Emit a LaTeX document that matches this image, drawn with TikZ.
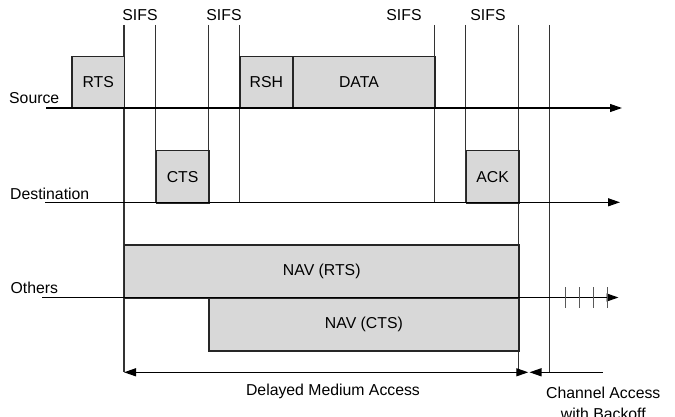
\documentclass[tikz,border=0pt]{standalone}
\usepackage{fontspec}
\setmainfont{Liberation Sans}
\usetikzlibrary{arrows.meta}
\definecolor{boxgray}{HTML}{D8D8D8}
\newcommand\lblfont{\fontsize{15.8}{21}\selectfont}
\begin{document}
\begin{tikzpicture}[x=1pt,y=-1pt,
  box/.style={draw=black!85, fill=boxgray, line width=1.2pt, inner sep=0pt, anchor=north west, font=\lblfont},
  vline/.style={draw=black!80, line width=1.2pt},
  axis/.style={draw=black, line width=1.2pt, -{Triangle[length=12pt,width=8pt]}},
  tick/.style={draw=black!65, line width=1.3pt},
  dim/.style={draw=black, line width=1.2pt},
  lbl/.style={font=\lblfont, inner sep=0pt}]
\useasboundingbox (0,0) rectangle (675,417);

% vertical time markers
\coordinate (t1) at (124,25);   \coordinate (b1) at (124,372.3);
\coordinate (t2) at (155.7,25); \coordinate (b2) at (155.7,202.3);
\coordinate (t3) at (208.3,25); \coordinate (b3) at (208.3,202.3);
\coordinate (t4) at (239.3,25); \coordinate (b4) at (239.3,202.3);
\coordinate (t5) at (434.3,25); \coordinate (b5) at (434.3,202.3);
\coordinate (t6) at (465.7,25); \coordinate (b6) at (465.7,202.3);
\coordinate (t7) at (518.3,25); \coordinate (b7) at (518.3,372.3);
\coordinate (t8) at (549.7,25); \coordinate (b8) at (549.7,372.3);
\foreach \i in {1,...,8} {\draw[vline] (t\i) -- (b\i);}

% frames
\node[box, minimum width=52.7pt, minimum height=52.3pt] (rts) at (71.3,55.7) {RTS};
\node[box, minimum width=53pt, minimum height=52.3pt] (rsh) at (239.3,55.7) {RSH};
\node[box, minimum width=142pt, minimum height=52.3pt] (data) at (292.3,55.7) {DATA\hspace*{10pt}};
\node[box, minimum width=52.6pt, minimum height=52.3pt] (cts) at (155.7,150) {CTS};
\node[box, minimum width=52.6pt, minimum height=52.3pt] (ack) at (465.7,150) {ACK};
\node[box, minimum width=394.3pt, minimum height=53pt] (navr) at (124,244.3) {NAV (RTS)};
\node[box, minimum width=310pt, minimum height=53pt] (navc) at (208.3,297.3) {NAV (CTS)};

% time axes
\coordinate (s0) at (46,108);      \coordinate (s1) at (622,108);
\coordinate (d0) at (45,202.3);    \coordinate (d1) at (620,202.3);
\coordinate (o0) at (42.3,297.5);  \coordinate (o1) at (618.5,297.5);
\draw[axis] (s0) -- (s1);
\draw[axis] (d0) -- (d1);
\draw[axis] (o0) -- (o1);

% backoff slots
\foreach \x [count=\k] in {565.7,579.7,593.7,607.7} {
  \coordinate (k\k a) at (\x,287);
  \coordinate (k\k b) at (\x,307.5);
  \draw[tick] (k\k a) -- (k\k b);
}

% dimension arrows
\coordinate (da) at (124,372.3);   \coordinate (db) at (528.3,372.3);
\coordinate (ca) at (529.5,372.3); \coordinate (cb) at (603,372.3);
\draw[dim, {Triangle[length=12pt,width=8pt]}-{Triangle[length=12pt,width=8pt]}] (da) -- (db);
\draw[dim, {Triangle[length=12pt,width=8pt]}-] (ca) -- (cb);

% labels
\node[lbl, anchor=base] (sifs1) at (140,20.7) {SIFS};
\node[lbl, anchor=base] (sifs2) at (224,20.7) {SIFS};
\node[lbl, anchor=base] (sifs3) at (404,20.7) {SIFS};
\node[lbl, anchor=base] (sifs4) at (488,20.7) {SIFS};
\node[lbl, anchor=base west] (src) at (9,104) {Source};
\node[lbl, anchor=base west] (dst) at (10,200) {Destination};
\node[lbl, anchor=base west] (oth) at (10.5,293.3) {Others};
\node[lbl, anchor=base] (dma) at (333,395.7) {Delayed Medium Access};
\node[lbl, anchor=base, align=center] (cab) at (603.3,419.7) {Channel Access\\with Backoff};
\end{tikzpicture}
\end{document}
